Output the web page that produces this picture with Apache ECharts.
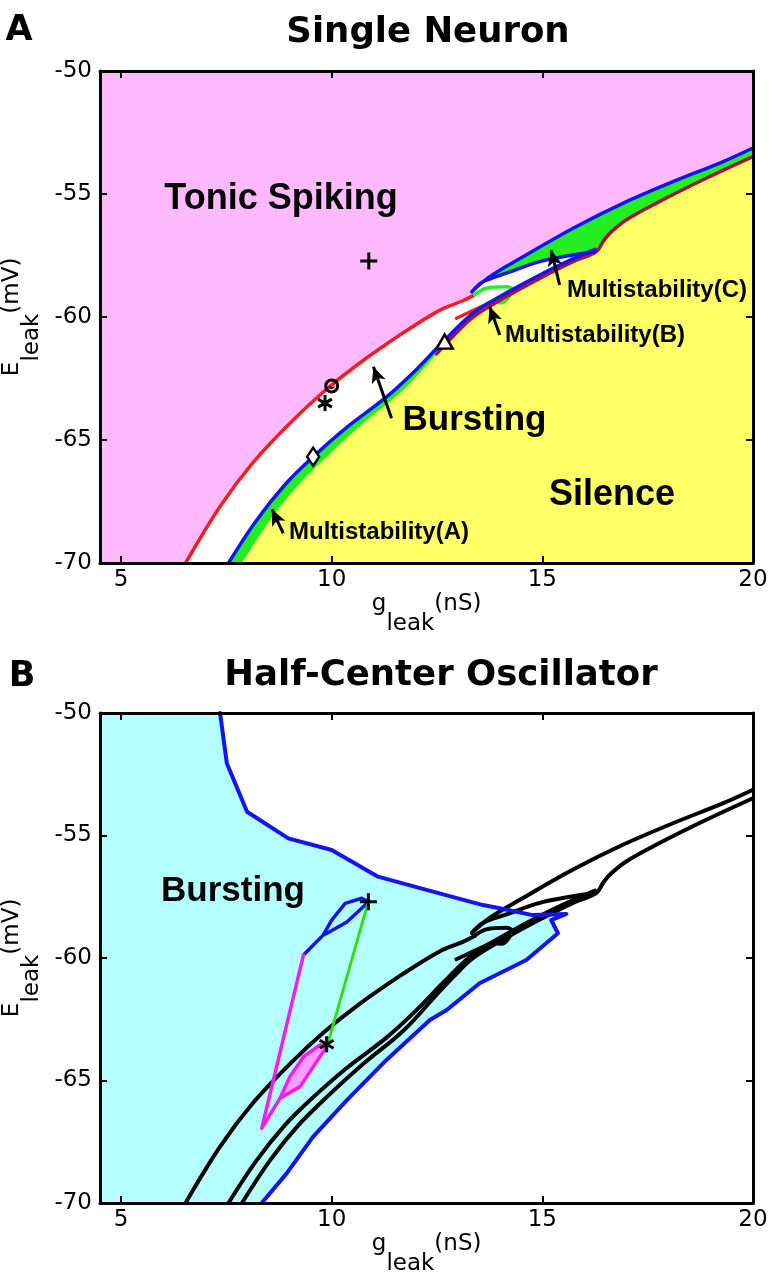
<!DOCTYPE html>
<html>
<head>
<meta charset="utf-8">
<title>Single Neuron / Half-Center Oscillator</title>
<script src="https://cdn.jsdelivr.net/npm/echarts@6/dist/echarts.min.js"></script>
<style>
  html, body { margin: 0; background: #fff; }
  #chart { width: 772px; height: 1280px; }
</style>
</head>
<body>
<div id="chart"></div>
<script>
// axis ticks
var gTicks = [5, 10, 15, 20]

// panel A boundaries (g_leak nS, E_leak mV)
var tonicEdge = [[6.53, -70], [7.35, -67.7], [8.14, -65.9], [9.02, -64.3], [9.8, -63.05], [10.6, -61.95], [11.69, -60.65], [12.57, -59.72], [13.1, -59.35], [13.39, -59.1]]
var burstEdge = [[7.55, -70], [8.2, -68.3], [8.9, -66.8], [9.55, -65.7], [10.35, -64.5], [11.3, -63.25], [12.0, -62.15], [12.65, -61.0], [13.35, -59.85], [14.15, -59.02], [14.95, -58.28], [15.75, -57.62], [16.25, -57.25]]
var silenceLow = [[7.87, -70], [8.54, -68.25], [9.17, -66.9], [9.88, -65.68], [10.75, -64.32], [11.7, -62.97], [12.49, -61.5]]
var silenceHigh = [[12.49, -61.5], [12.9, -60.75], [13.36, -60.0], [14.15, -59.17], [14.94, -58.43], [15.73, -57.75], [16.28, -57.35], [16.44, -56.94], [16.6, -56.6], [16.99, -56.06], [17.7, -55.38], [18.89, -54.36], [20, -53.48]]
var multiCUpper = [[13.33, -58.97], [13.75, -58.36], [14.54, -57.55], [15.73, -56.39], [16.91, -55.38], [18.1, -54.5], [19.28, -53.69], [20, -53.13]]
var multiCLower = [[13.33, -58.97], [13.59, -58.57], [14.15, -58.22], [14.94, -57.75], [15.73, -57.48], [16.24, -57.35]]
var multiBHook = [[13.39, -59.1], [13.67, -58.83], [14.15, -58.77], [14.27, -58.87], [14.18, -59.24], [14.03, -59.42], [13.92, -59.4]]
var multiBSpur = [[12.96, -60.05], [13.4, -59.7], [13.8, -59.38], [14.27, -58.97]]

// panel A markers
var plusPt = [10.88, -57.72]
var circlePt = [10.0, -62.8]
var starPt = [9.84, -63.5]
var diamondPt = [9.56, -65.68]
var trianglePt = [12.68, -61.0]

// panel A arrows [tail, head]
var arrowsA = [
  [[8.85, -68.79], [8.58, -67.82]],
  [[11.42, -64.12], [10.99, -62.02]],
  [[13.99, -60.73], [13.75, -59.58]],
  [[15.41, -58.7], [15.21, -57.28]]
]

// panel B
var hcoEdge = [[7.35, -50], [7.51, -52.05], [7.99, -54.03], [8.97, -55.12], [10.0, -55.59], [11.1, -56.68], [12.25, -57.22], [13.59, -57.84], [13.99, -57.97], [14.74, -58.24], [15.57, -58.2], [15.21, -58.45], [15.37, -58.99], [14.62, -60.08], [13.51, -61.03], [12.73, -62.12], [12.33, -62.53], [11.3, -64.16], [10.36, -65.8], [9.56, -67.29], [8.93, -68.79], [8.34, -70]]
var hcoLoop = [[9.33, -59.88], [9.8, -59.06], [10.0, -58.45], [10.32, -57.77], [10.71, -57.56], [10.87, -57.7], [10.75, -57.91], [10.36, -58.53], [9.88, -59.0], [9.8, -59.06]]
var hcoMagenta = [[9.33, -59.88], [8.34, -66.95], [8.77, -65.73]]
var hcoPatch = [[8.77, -65.73], [9.01, -64.84], [9.33, -64.03], [9.72, -63.55], [9.88, -63.62], [9.72, -64.03], [9.25, -65.25], [8.77, -65.73]]
var hcoLink = [[10.87, -57.7], [9.92, -63.42]]
var hcoPlus = [10.87, -57.7]
var hcoStar = [9.88, -63.52]

var PINK = '#ffb9ff'
var YELLOW = '#ffff66'
var GREEN = '#22ee22'
var RED = '#f51e1e'
var BLUE = '#1414f0'
var CRIMSON = '#a8143e'
var CYAN = '#b4ffff'
var MAGENTA = '#f01ef0'
var SMOOTH = 0.35

var plusPath = 'path://M10,0L10,20M0,10L20,10'
var starPath = 'path://M10,0L10,20M1.34,5L18.66,15M1.34,15L18.66,5'
var ringPath = 'path://M0,10A10,10 0 1,1 20,10A10,10 0 1,1 0,10ZM4,10A6,6 0 1,0 16,10A6,6 0 1,0 4,10ZM6,10A4,4 0 0,0 14,10A5,3 0 0,1 6,10Z'

// area between a boundary and the bottom of the axis
function under(data, color, ax) {
  return {
    type: 'line',
    data: data,
    xAxisIndex: ax,
    yAxisIndex: ax,
    symbol: 'none',
    smooth: SMOOTH,
    silent: true,
    z: 1,
    lineStyle: { width: 0 },
    areaStyle: { color: color, opacity: 1, origin: 'start' }
  }
}

function fill(pts, color, ax) {
  return {
    type: 'custom',
    xAxisIndex: ax,
    yAxisIndex: ax,
    silent: true,
    z: 1,
    data: [pts[0]],
    renderItem: function (params, api) {
      return {
        type: 'polygon',
        shape: { points: pts.map(function (p) { return api.coord(p) }) },
        style: { fill: color }
      }
    }
  }
}

function curve(data, color, width, ax, smooth) {
  return {
    type: 'line',
    data: data,
    xAxisIndex: ax,
    yAxisIndex: ax,
    symbol: 'none',
    smooth: smooth ? SMOOTH : false,
    silent: true,
    z: 3,
    lineStyle: { color: color, width: width, cap: 'round', join: 'round' }
  }
}

function mark(pt, symbol, size, ax, face, bw) {
  return {
    type: 'scatter',
    data: [pt],
    xAxisIndex: ax,
    yAxisIndex: ax,
    symbol: symbol,
    symbolSize: size,
    symbolKeepAspect: true,
    silent: true,
    z: 5,
    itemStyle: { color: face, borderColor: '#000', borderWidth: bw, opacity: 1 }
  }
}

var nameStyle = {
  fontFamily: 'DejaVu Sans',
  fontSize: 23,
  color: '#000',
  rich: {
    z: { fontSize: 1, lineHeight: 43 },
    n: { fontFamily: 'DejaVu Sans', fontSize: 23, lineHeight: 23, color: '#000', verticalAlign: 'top' },
    s: { fontFamily: 'DejaVu Sans', fontSize: 23, lineHeight: 23, color: '#000', verticalAlign: 'bottom' }
  }
}

function xAx(grid, pos, labels) {
  return {
    type: 'value',
    gridIndex: grid,
    position: pos,
    min: 4.5,
    max: 20,
    z: 10,
    axisLine: { show: true, onZero: false, lineStyle: { color: '#000', width: 3 } },
    axisTick: { show: true, inside: true, length: 7, customValues: gTicks, lineStyle: { color: '#000', width: 2 } },
    axisLabel: { show: labels, customValues: gTicks, margin: 6, color: '#000', fontFamily: 'DejaVu Sans', fontSize: 23 },
    splitLine: { show: false },
    name: labels ? '{z| }{n|g}{s|leak}{n|(nS)}' : '',
    nameLocation: 'middle',
    nameGap: 30,
    nameTextStyle: nameStyle
  }
}

function yAx(grid, pos, labels) {
  return {
    type: 'value',
    gridIndex: grid,
    position: pos,
    min: -70,
    max: -50,
    interval: 5,
    z: 10,
    axisLine: { show: true, onZero: false, lineStyle: { color: '#000', width: 3 } },
    axisTick: { show: true, inside: true, length: 7, lineStyle: { color: '#000', width: 2 } },
    axisLabel: { show: labels, margin: 8, color: '#000', fontFamily: 'DejaVu Sans', fontSize: 23 },
    splitLine: { show: false },
    name: labels ? '{z| }{n|E}{s|leak}{n|(mV)}' : '',
    nameLocation: 'middle',
    nameRotate: 90,
    nameGap: 42,
    nameTextStyle: nameStyle
  }
}

function label(text, x, y, size, align, font) {
  return {
    type: 'text',
    x: x,
    y: y,
    z: 100,
    silent: true,
    style: {
      text: text,
      fontFamily: font || 'Liberation Sans',
      fontWeight: 'bold',
      fontSize: size,
      fill: '#000',
      align: align || 'center',
      verticalAlign: 'middle'
    }
  }
}

var chart = echarts.init(document.getElementById('chart'), null, { renderer: 'canvas' })

var series = [
  // panel A regions, painted back to front
  under(tonicEdge.concat(multiCUpper), '#ffffff', 0),
  under(multiCUpper, GREEN, 0),
  under(multiCLower, '#ffffff', 0),
  under(burstEdge, GREEN, 0),
  under(silenceLow.concat(silenceHigh.slice(1)), YELLOW, 0),
  // panel A boundaries
  curve(tonicEdge, RED, 3.5, 0, true),
  curve(multiBSpur, RED, 3.5, 0, true),
  curve(multiBHook, GREEN, 3.5, 0, true),
  curve(silenceHigh, CRIMSON, 3.5, 0, true),
  curve(burstEdge, BLUE, 3.5, 0, true),
  curve(multiCUpper, BLUE, 3.5, 0, true),
  curve(multiCLower, BLUE, 3.5, 0, true),
  // panel A markers
  mark(plusPt, plusPath, 17, 0, '#000', 3),
  mark(circlePt, ringPath, 15, 0, '#000', 0),
  mark(starPt, starPath, 16, 0, '#000', 3),
  mark(diamondPt, 'diamond', [12, 18], 0, '#fff', 2.5),
  mark(trianglePt, 'triangle', [16, 14], 0, '#fff', 2.5),
  {
    type: 'scatter',
    data: [],
    xAxisIndex: 0,
    yAxisIndex: 0,
    silent: true,
    markLine: {
      silent: true,
      symbol: ['none', 'arrow'],
      symbolSize: [11, 16],
      label: { show: false },
      lineStyle: { color: '#000', width: 3, type: 'solid' },
      data: arrowsA.map(function (a) { return [{ coord: a[0] }, { coord: a[1] }] })
    }
  },

  // panel B
  fill([[4.5, -50]].concat(hcoEdge, [[4.5, -70]]), CYAN, 2),
  fill(hcoPatch, '#ff9cff', 2),
  curve(tonicEdge, '#000', 4, 2, true),
  curve(burstEdge, '#000', 4, 2, true),
  curve(silenceLow.concat(silenceHigh.slice(1)), '#000', 4, 2, true),
  curve(multiCUpper, '#000', 4, 2, true),
  curve(multiCLower, '#000', 4, 2, true),
  curve(multiBHook, '#000', 4, 2, true),
  curve(multiBSpur, '#000', 4, 2, true),
  curve(hcoEdge, BLUE, 4, 2, false),
  curve(hcoLoop, BLUE, 3.5, 2, false),
  curve(hcoMagenta, MAGENTA, 3.5, 2, false),
  curve(hcoPatch, MAGENTA, 3.5, 2, false),
  curve(hcoLink, '#33dd11', 3, 2, false),
  mark(hcoPlus, plusPath, 17, 2, '#000', 3),
  mark(hcoStar, starPath, 16, 2, '#000', 3)
]

chart.setOption({
  animation: false,
  backgroundColor: '#fff',
  grid: [
    { left: 100, top: 71, width: 653, height: 492, show: true, backgroundColor: PINK, borderWidth: 0, outerBoundsMode: 'none' },
    { left: 100, top: 713, width: 653, height: 490, show: false, outerBoundsMode: 'none' }
  ],
  xAxis: [xAx(0, 'bottom', true), xAx(0, 'top', false), xAx(1, 'bottom', true), xAx(1, 'top', false)],
  yAxis: [yAx(0, 'left', true), yAx(0, 'right', false), yAx(1, 'left', true), yAx(1, 'right', false)],
  series: series,
  graphic: [
    label('A', 19, 31, 35, 'center', 'DejaVu Sans'),
    label('Single Neuron', 428, 33, 35.5, 'center', 'DejaVu Sans'),
    label('B', 22, 677, 35, 'center', 'DejaVu Sans'),
    label('Half-Center Oscillator', 441, 675.5, 35.5, 'center', 'DejaVu Sans'),
    label('Tonic Spiking', 281, 199, 36),
    label('Bursting', 474.5, 420.5, 35),
    label('Silence', 612, 495, 36),
    label('Multistability(A)', 289, 532, 24, 'left'),
    label('Multistability(B)', 505, 335, 24, 'left'),
    label('Multistability(C)', 567, 290.5, 24, 'left'),
    label('Bursting', 233, 891.5, 35)
  ]
})
</script>
</body>
</html>
